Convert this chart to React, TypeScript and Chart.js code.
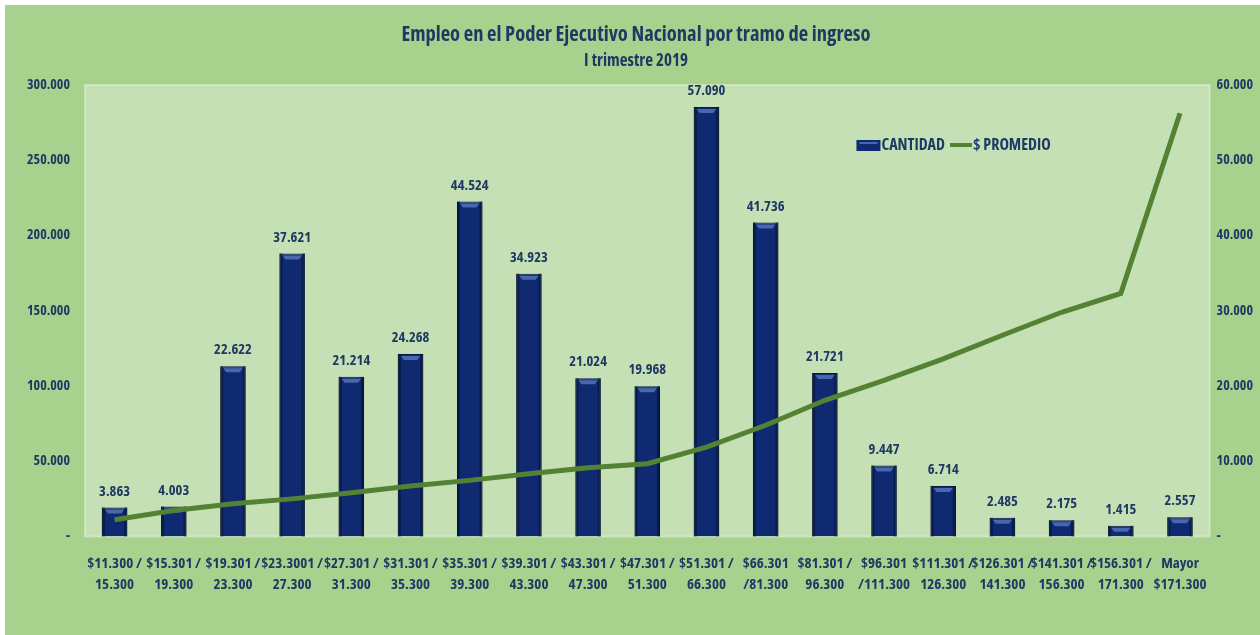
import React, { useEffect, useRef } from "react";
import { Chart, registerables } from "chart.js";

Chart.register(...registerables);

const categories: string[][] = [
  ["$11.300 /", "15.300"],
  ["$15.301 /", "19.300"],
  ["$19.301 /", "23.300"],
  ["$23.3001 /", "27.300"],
  ["$27.301 /", "31.300"],
  ["$31.301 /", "35.300"],
  ["$35.301 /", "39.300"],
  ["$39.301 /", "43.300"],
  ["$43.301 /", "47.300"],
  ["$47.301 /", "51.300"],
  ["$51.301 /", "66.300"],
  ["$66.301", "/81.300"],
  ["$81.301 /", "96.300"],
  ["$96.301", "/111.300"],
  ["$111.301 /", "126.300"],
  ["$126.301 /", "141.300"],
  ["$141.301 /", "156.300"],
  ["$156.301 /", "171.300"],
  ["Mayor", "$171.300"],
];

const cantidad: number[] = [
  3863, 4003, 22622, 37621, 21214, 24268, 44524, 34923, 21024, 19968, 57090,
  41736, 21721, 9447, 6714, 2485, 2175, 1415, 2557,
];

const promedio: number[] = [
  11100, 17300, 21700, 25000, 29000, 33500, 37300, 41700, 45700, 48400, 59400,
  73900, 90500, 103800, 118000, 133700, 149000, 161500, 281200,
];

const titleText = "Empleo en el Poder Ejecutivo Nacional por tramo de ingreso";
const subtitleText = "I trimestre 2019";
const legendLabels = ["CANTIDAD", "$ PROMEDIO"];

const FONT = "'Open Sans', 'Roboto Condensed', sans-serif";
const WEIGHT = "bold condensed";
const NAVY = "#1f3864";
const BAR = "#0f2a70";
const LINE = "#548235";

function fmt(v: number): string {
  if (v === 0) return "-";
  return Math.round(v).toString().replace(/\B(?=(\d{3})+(?!\d))/g, ".");
}

const plotBgPlugin = {
  id: "plotBg",
  beforeDraw(chart: any) {
    const { ctx, chartArea } = chart;
    ctx.save();
    ctx.fillStyle = "#c5e0b4";
    ctx.fillRect(chartArea.left, chartArea.top, chartArea.right - chartArea.left, chartArea.bottom - chartArea.top);
    ctx.strokeStyle = "rgba(255,255,255,0.35)";
    ctx.lineWidth = 2;
    ctx.strokeRect(chartArea.left, chartArea.top, chartArea.right - chartArea.left, chartArea.bottom - chartArea.top);
    ctx.restore();
  },
};

const barShadePlugin = {
  id: "barShade",
  afterDatasetDraw(chart: any, args: any) {
    const ds = chart.data.datasets[args.index];
    if (ds.type !== "bar") return;
    const { ctx } = chart;
    args.meta.data.forEach((bar: any) => {
      const w = bar.width;
      const left = bar.x - w / 2;
      const h = bar.base - bar.y;
      ctx.save();
      ctx.fillStyle = "rgba(0,8,30,0.45)";
      ctx.fillRect(left, bar.y, 3, h);
      ctx.fillRect(left + w - 3, bar.y, 3, h);
      ctx.fillStyle = "rgba(110,145,215,0.6)";
      ctx.beginPath();
      ctx.moveTo(left + 3, bar.y + 2);
      ctx.lineTo(left + w - 3, bar.y + 2);
      ctx.lineTo(left + w - 6, bar.y + 6);
      ctx.lineTo(left + 6, bar.y + 6);
      ctx.closePath();
      ctx.fill();
      ctx.restore();
    });
  },
};

const barLabelPlugin = {
  id: "barLabels",
  afterDatasetsDraw(chart: any) {
    const { ctx } = chart;
    chart.data.datasets.forEach((ds: any, di: number) => {
      if (ds.type !== "bar") return;
      const meta = chart.getDatasetMeta(di);
      meta.data.forEach((bar: any, i: number) => {
        ctx.save();
        ctx.font = `${WEIGHT} 14.5px ${FONT}`;
        ctx.fillStyle = NAVY;
        ctx.textAlign = "center";
        ctx.textBaseline = "middle";
        ctx.fillText(fmt(ds.data[i]), bar.x, bar.y - 16);
        ctx.restore();
      });
    });
  },
};

const legendPlugin = {
  id: "customLegend",
  afterDraw(chart: any) {
    const { ctx, chartArea } = chart;
    const w = chartArea.right - chartArea.left;
    let x = chartArea.left + 0.686 * w;
    const y = chartArea.top + 60;
    ctx.save();
    ctx.fillStyle = BAR;
    ctx.fillRect(x, y - 5, 24, 11);
    ctx.fillStyle = "rgba(110,145,215,0.6)";
    ctx.fillRect(x + 3, y - 3, 18, 2);
    x += 25;
    ctx.font = `${WEIGHT} 16px ${FONT}`;
    ctx.fillStyle = NAVY;
    ctx.textAlign = "left";
    ctx.textBaseline = "middle";
    ctx.fillText(legendLabels[0], x, y);
    x += ctx.measureText(legendLabels[0]).width + 5;
    ctx.strokeStyle = LINE;
    ctx.lineWidth = 4;
    ctx.beginPath();
    ctx.moveTo(x, y);
    ctx.lineTo(x + 22, y);
    ctx.stroke();
    x += 23;
    ctx.fillText(legendLabels[1], x, y);
    ctx.restore();
  },
};

export default function App() {
  const ref = useRef<HTMLCanvasElement | null>(null);

  useEffect(() => {
    if (!ref.current) return;
    const tickFont = { family: FONT, size: 14, weight: WEIGHT };
    const chart = new Chart(ref.current, {
      type: "bar",
      data: {
        labels: categories,
        datasets: [
          {
            type: "line",
            label: legendLabels[1],
            data: promedio,
            yAxisID: "y",
            borderColor: LINE,
            backgroundColor: LINE,
            borderWidth: 5,
            pointRadius: 0,
            tension: 0,
            order: 0,
          } as any,
          {
            type: "bar",
            label: legendLabels[0],
            data: cantidad,
            yAxisID: "y1",
            backgroundColor: BAR,
            borderColor: "#081a48",
            borderWidth: 1,
            barPercentage: 0.43,
            categoryPercentage: 1,
            order: 1,
          } as any,
        ],
      },
      options: {
        animation: false,
        responsive: false,
        maintainAspectRatio: false,
        layout: { padding: { left: 7, right: 0, top: 0, bottom: 23 } },
        plugins: {
          legend: { display: false },
          tooltip: { enabled: false },
          title: {
            display: true,
            text: titleText,
            color: NAVY,
            font: { family: FONT, size: 20.5, weight: WEIGHT },
            padding: { top: 18, bottom: 2 },
          },
          subtitle: {
            display: true,
            text: subtitleText,
            color: NAVY,
            font: { family: FONT, size: 17, weight: WEIGHT },
            padding: { top: 1, bottom: 14 },
          },
        },
        scales: {
          x: {
            grid: { display: false, drawTicks: false },
            border: { display: false },
            ticks: {
              autoSkip: false,
              maxRotation: 0,
              minRotation: 0,
              padding: 16,
              color: NAVY,
              font: { family: FONT, size: 15, weight: WEIGHT, lineHeight: 1.45 },
            },
          },
          y: {
            position: "left",
            min: 0,
            max: 300000,
            grid: { display: false, drawTicks: false },
            border: { display: false },
            ticks: {
              stepSize: 50000,
              padding: 15,
              color: NAVY,
              font: tickFont,
              callback: (v: any) => fmt(Number(v)),
            },
          },
          y1: {
            position: "right",
            min: 0,
            max: 60000,
            grid: { display: false, drawTicks: false },
            border: { display: false },
            ticks: {
              stepSize: 10000,
              padding: 7,
              color: NAVY,
              font: tickFont,
              callback: (v: any) => fmt(Number(v)),
            },
          },
        },
      } as any,
      plugins: [plotBgPlugin, barShadePlugin, barLabelPlugin, legendPlugin],
    });
    return () => chart.destroy();
  }, []);

  return (
    <div
      style={{
        position: "fixed",
        left: 5,
        top: 5,
        width: 1255,
        height: 630,
        background: "#a9d18e",
      }}
    >
      <canvas ref={ref} width={1255} height={630} style={{ display: "block", width: 1255, height: 630 }} />
    </div>
  );
}
